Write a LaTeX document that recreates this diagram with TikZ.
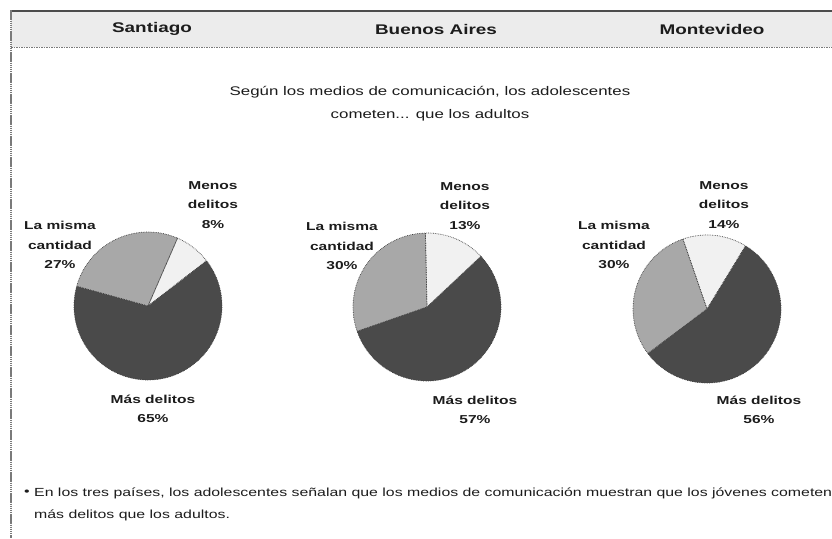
\documentclass[tikz,border=0pt]{standalone}
\usepackage{fontspec}
\setmainfont{Liberation Sans}[FakeStretch=1.35]
\definecolor{txt}{HTML}{1C1C1C}
\definecolor{hdrbg}{HTML}{ECECEC}
\definecolor{frame}{HTML}{7A7A7A}
\definecolor{mas}{HTML}{4A4A4A}
\definecolor{misma}{HTML}{A8A8A8}
\definecolor{menos}{HTML}{F1F1F1}
\tikzset{
  hdr/.style={font=\bfseries\fontsize{14}{16}\selectfont, text=txt, inner sep=0pt},
  sub/.style={font=\fontsize{12.5}{15}\selectfont, text=txt, inner sep=0pt},
  lbl/.style={font=\bfseries\fontsize{11.5}{19.5}\selectfont, text=txt, align=center, inner sep=0pt},
  note/.style={font=\fontsize{11.75}{14}\selectfont, text=txt, inner sep=0pt, anchor=west},
  edge/.style={draw=black!75, densely dotted, line width=0.7pt},
}
\newcommand{\pieslice}[4]{% color, start, end, radius
  \fill[#1] (0,0) -- (#2:#4) arc[start angle=#2, end angle=#3, radius=#4] -- cycle;
}
\newcommand{\pieedge}[4]{%
  \draw[edge] (0,0) -- (#2:#4) arc[start angle=#2, end angle=#3, radius=#4] -- cycle;
}
\begin{document}
\begin{tikzpicture}[x=1pt,y=-1pt]
\useasboundingbox (0,0) rectangle (832,538);
\fill[white] (0,0) rectangle (832,538);
% header band
\fill[hdrbg] (11,11) rectangle (832,47);
\draw[frame, line width=0.8pt, dash pattern=on 1.5pt off 1pt] (11,47) -- (832,47);
\draw[black!70, line width=1.8pt] (11,11) -- (832,11);
\draw[frame, line width=2pt, dash pattern=on 1.5pt off 0.6pt] (11,10) -- (11,538);
% headers
\node[hdr] (hs) at (152,29) {Santiago};
\node[hdr] (hb) at (436,29) {Buenos Aires};
\node[hdr] (hm) at (712,29) {Montevideo};
% subtitle
\node[sub] (s1) at (430,92) {Según los medios de comunicación, los adolescentes};
\node[sub] (s2) at (430,115) {cometen... que los adultos};
% Santiago pie
\begin{scope}[shift={(148,306)}]
  \pieslice{mas}{164.5}{397.7}{74pt}
  \pieslice{menos}{37.7}{66.5}{74pt}
  \pieslice{misma}{66.5}{164.5}{74pt}
  \pieedge{mas}{164.5}{397.7}{74pt}
  \pieedge{menos}{37.7}{66.5}{74pt}
  \pieedge{misma}{66.5}{164.5}{74pt}
\end{scope}
% Buenos Aires pie
\begin{scope}[shift={(427,307)}]
  \pieslice{mas}{199.2}{403.2}{74pt}
  \pieslice{menos}{43.2}{91.2}{74pt}
  \pieslice{misma}{91.2}{199.2}{74pt}
  \pieedge{mas}{199.2}{403.2}{74pt}
  \pieedge{menos}{43.2}{91.2}{74pt}
  \pieedge{misma}{91.2}{199.2}{74pt}
\end{scope}
% Montevideo pie
\begin{scope}[shift={(707,309)}]
  \pieslice{mas}{217}{418.6}{74pt}
  \pieslice{menos}{58.6}{109}{74pt}
  \pieslice{misma}{109}{217}{74pt}
  \pieedge{mas}{217}{418.6}{74pt}
  \pieedge{menos}{58.6}{109}{74pt}
  \pieedge{misma}{109}{217}{74pt}
\end{scope}
% Santiago labels
\node[lbl] (sa) at (213,205) {Menos\\delitos\\8\%};
\node[lbl] (sb) at (60,245) {La misma\\cantidad\\27\%};
\node[lbl] (sc) at (153,409) {Más delitos\\65\%};
% Buenos Aires labels
\node[lbl] (ba) at (465,206) {Menos\\delitos\\13\%};
\node[lbl] (bb) at (342,246) {La misma\\cantidad\\30\%};
\node[lbl] (bc) at (475,410) {Más delitos\\57\%};
% Montevideo labels
\node[lbl] (ma) at (724,205) {Menos\\delitos\\14\%};
\node[lbl] (mb) at (614,245) {La misma\\cantidad\\30\%};
\node[lbl] (mc) at (759,410) {Más delitos\\56\%};
% note
\node[note] (bul) at (24,493) {\textbullet};
\node[note] (n1) at (34,493) {En los tres países, los adolescentes señalan que los medios de comunicación muestran que los jóvenes cometen};
\node[note] (n2) at (34,515) {más delitos que los adultos.};
\end{tikzpicture}
\end{document}
